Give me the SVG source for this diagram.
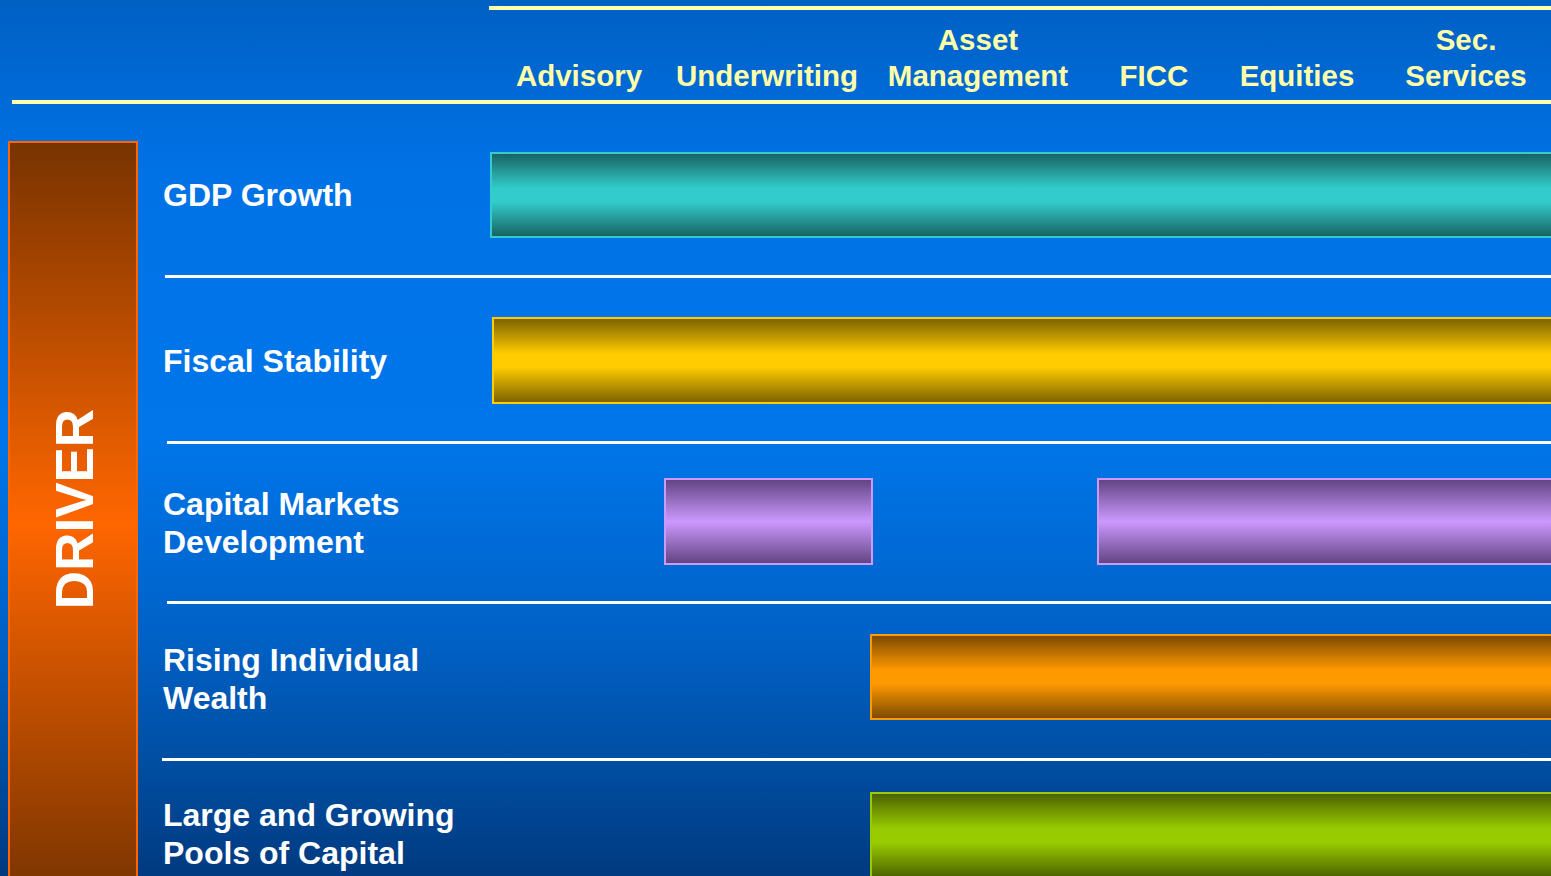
<svg xmlns="http://www.w3.org/2000/svg" width="1551" height="876" viewBox="0 0 1551 876">
<defs>
<linearGradient id="bg" x1="0" y1="0" x2="0" y2="1">
<stop offset="0" stop-color="#0060c4"/>
<stop offset="0.2" stop-color="#0072e6"/>
<stop offset="0.5" stop-color="#0076ea"/>
<stop offset="0.72" stop-color="#0062c8"/>
<stop offset="0.87" stop-color="#004ea2"/>
<stop offset="1" stop-color="#003a80"/>
</linearGradient>
<linearGradient id="drv" x1="0" y1="0" x2="0" y2="1">
<stop offset="0" stop-color="#773300"/>
<stop offset="0.5" stop-color="#ff6600"/>
<stop offset="1" stop-color="#773300"/>
</linearGradient>
<linearGradient id="teal" x1="0" y1="0" x2="0" y2="1">
<stop offset="0" stop-color="#186060"/>
<stop offset="0.42" stop-color="#33cccc"/>
<stop offset="0.58" stop-color="#33cccc"/>
<stop offset="1" stop-color="#186060"/>
</linearGradient>
<linearGradient id="yel" x1="0" y1="0" x2="0" y2="1">
<stop offset="0" stop-color="#7a6000"/>
<stop offset="0.42" stop-color="#ffcc00"/>
<stop offset="0.58" stop-color="#ffcc00"/>
<stop offset="1" stop-color="#7a6000"/>
</linearGradient>
<linearGradient id="pur" x1="0" y1="0" x2="0" y2="1">
<stop offset="0" stop-color="#604280"/>
<stop offset="0.5" stop-color="#cc99ff"/>
<stop offset="1" stop-color="#604280"/>
</linearGradient>
<linearGradient id="org" x1="0" y1="0" x2="0" y2="1">
<stop offset="0" stop-color="#7a4800"/>
<stop offset="0.42" stop-color="#ff9900"/>
<stop offset="0.58" stop-color="#ff9900"/>
<stop offset="1" stop-color="#7a4800"/>
</linearGradient>
<linearGradient id="grn" x1="0" y1="0" x2="0" y2="1">
<stop offset="0" stop-color="#4a6000"/>
<stop offset="0.42" stop-color="#99cc00"/>
<stop offset="0.58" stop-color="#99cc00"/>
<stop offset="1" stop-color="#4a6000"/>
</linearGradient>
</defs>
<style>
.hdr{font-family:"Liberation Sans",Arial,sans-serif;font-weight:bold;font-size:29.5px;fill:#ffffaa;text-anchor:middle}
.lbl{font-family:"Liberation Sans",Arial,sans-serif;font-weight:bold;font-size:32px;fill:#ffffff}
.ylw{stroke:#ffffaa;stroke-width:4}
.sep{stroke:#ffffff;stroke-width:3}
.bar{stroke-width:2}
</style>
<rect x="0" y="0" width="1551" height="876" fill="url(#bg)"/>

<g id="header">
<line class="ylw" x1="489" y1="8" x2="1551" y2="8"/>
<line class="ylw" x1="12" y1="102" x2="1551" y2="102"/>
<text class="hdr" x="579" y="86">Advisory</text>
<text class="hdr" x="767" y="86">Underwriting</text>
<text class="hdr" x="978" y="50">Asset</text>
<text class="hdr" x="978" y="86">Management</text>
<text class="hdr" x="1154" y="86">FICC</text>
<text class="hdr" x="1297" y="86">Equities</text>
<text class="hdr" x="1466" y="50">Sec.</text>
<text class="hdr" x="1466" y="86">Services</text>
</g>

<g id="driver">
<rect x="9" y="142" width="128" height="760" fill="url(#drv)" stroke="#ff6600" stroke-width="2"/>
<text x="0" y="0" transform="translate(93,509) rotate(-90)" font-family="'Liberation Sans',Arial,sans-serif" font-weight="bold" font-size="53" fill="#ffffff" text-anchor="middle">DRIVER</text>
</g>

<g id="connectors">
<line class="sep" x1="165" y1="276.5" x2="1551" y2="276.5"/>
<line class="sep" x1="167" y1="442.5" x2="1551" y2="442.5"/>
<line class="sep" x1="167" y1="602.5" x2="1551" y2="602.5"/>
<line class="sep" x1="162" y1="759.5" x2="1551" y2="759.5"/>
</g>

<g id="gdp">
<text class="lbl" x="163" y="206">GDP Growth</text>
<rect class="bar" x="491" y="153" width="1070" height="84" fill="url(#teal)" stroke="#33cccc"/>
</g>

<g id="fiscal">
<text class="lbl" x="163" y="372">Fiscal Stability</text>
<rect class="bar" x="493" y="318" width="1070" height="85" fill="url(#yel)" stroke="#ffcc00"/>
</g>

<g id="capital-markets">
<text class="lbl" x="163" y="515">Capital Markets</text>
<text class="lbl" x="163" y="553">Development</text>
<rect class="bar" x="665" y="479" width="207" height="85" fill="url(#pur)" stroke="#cc99ff"/>
<rect class="bar" x="1098" y="479" width="470" height="85" fill="url(#pur)" stroke="#cc99ff"/>
</g>

<g id="wealth">
<text class="lbl" x="163" y="671">Rising Individual</text>
<text class="lbl" x="163" y="709">Wealth</text>
<rect class="bar" x="871" y="635" width="700" height="84" fill="url(#org)" stroke="#ff9900"/>
</g>

<g id="pools">
<text class="lbl" x="163" y="826">Large and Growing</text>
<text class="lbl" x="163" y="864">Pools of Capital</text>
<rect class="bar" x="871" y="793" width="700" height="85" fill="url(#grn)" stroke="#99cc00"/>
</g>
</svg>
